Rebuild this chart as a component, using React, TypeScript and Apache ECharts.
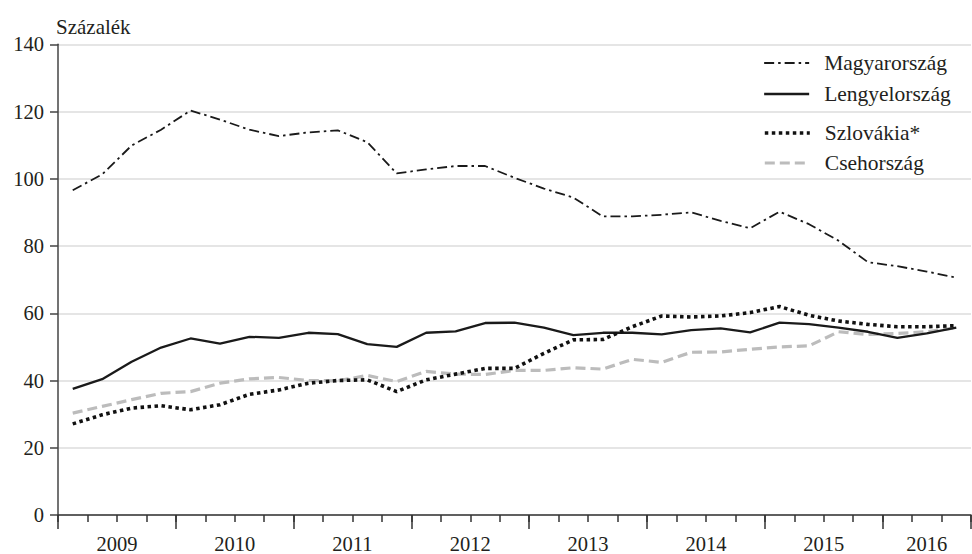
import React, { useEffect, useRef } from "react";
import * as echarts from "echarts";

const years = ["2009", "2010", "2011", "2012", "2013", "2014", "2015", "2016"];
const quarters: string[] = [];
years.forEach((y) => {
  const n = y === "2016" ? 3 : 4;
  for (let q = 1; q <= n; q++) quarters.push(`${y} Q${q}`);
});

const hungary = [96.6, 101.3, 109.9, 114.6, 120.3, 117.6, 114.6, 112.7, 113.8, 114.4, 110.9, 101.6, 102.8, 103.8, 103.8, 100.3, 97.1, 94.4, 88.8, 88.8, 89.3, 90.0, 87.5, 85.3, 90.2, 86.5, 81.6, 75.2, 74.0, 72.4, 70.6];
const poland = [37.5, 40.4, 45.6, 49.8, 52.5, 51.0, 53.0, 52.7, 54.2, 53.8, 50.8, 50.0, 54.2, 54.6, 57.1, 57.2, 55.7, 53.5, 54.2, 54.2, 53.7, 55.0, 55.5, 54.3, 57.2, 56.8, 55.7, 54.5, 52.7, 54.0, 55.7];
const slovakia = [27.1, 29.8, 31.8, 32.5, 31.3, 32.8, 35.9, 37.2, 39.2, 40.0, 40.2, 36.7, 40.2, 41.9, 43.6, 43.6, 48.1, 52.1, 52.2, 56.0, 59.2, 58.9, 59.2, 60.2, 62.0, 59.4, 57.7, 56.7, 56.0, 56.0, 56.3];
const czechia = [30.3, 32.3, 34.3, 36.2, 36.7, 39.2, 40.5, 40.9, 40.0, 39.9, 41.5, 39.7, 42.7, 41.9, 41.8, 43.0, 43.0, 43.8, 43.4, 46.3, 45.4, 48.4, 48.5, 49.3, 50.0, 50.3, 54.5, 53.7, 54.0, 54.5, 55.7];

const yTicks = { min: 0, max: 140, interval: 20 };
const seriesNames = ["Magyarország", "Lengyelország", "Szlovákia*", "Csehország"];
const unitLabel = "Százalék";

const FONT = "'Liberation Serif', 'Times New Roman', serif";

const lineStyles = [
  { color: "#1a1a1a", width: 1.8, type: [10, 4, 2.5, 4] },
  { color: "#1a1a1a", width: 2.3, type: "solid" },
  { color: "#111", width: 3.6, type: [3.5, 3.5], cap: "butt" },
  { color: "#bcbcbc", width: 3.2, type: [10, 5] },
];

export default function App() {
  const ref = useRef<HTMLDivElement>(null);
  useEffect(() => {
    if (!ref.current) return;
    const chart = echarts.init(ref.current, undefined, { renderer: "svg" });
    const textColor = "#231f20";
    const lastYear = years[years.length - 1];
    const legendText = {
      fontFamily: FONT,
      fontSize: 21.5,
      color: textColor,
      padding: [0, 0, 0, 10],
      lineHeight: 21,
    };
    const legendItem = (i: number) => ({
      name: seriesNames[i],
      lineStyle: { ...lineStyles[i] },
      itemStyle: { opacity: 0 },
    });
    chart.setOption({
      animation: false,
      backgroundColor: "#ffffff",
      textStyle: { fontFamily: FONT },
      title: {
        text: unitLabel,
        left: 51,
        top: 11,
        textStyle: { fontFamily: FONT, fontSize: 21, fontWeight: "normal", color: textColor },
      },
      legend: [
        {
          data: [legendItem(0), legendItem(1)],
          orient: "vertical",
          left: 763,
          top: 52,
          padding: 0,
          itemWidth: 45,
          itemHeight: 14,
          itemGap: 9,
          itemStyle: { opacity: 0 },
          textStyle: legendText,
        },
        {
          data: [legendItem(2), legendItem(3)],
          orient: "vertical",
          left: 763,
          top: 122,
          padding: 0,
          itemWidth: 45,
          itemHeight: 14,
          itemGap: 8,
          itemStyle: { opacity: 0 },
          textStyle: legendText,
        },
      ],
      grid: { left: 58, right: 1, top: 44.3, bottom: 36.5, containLabel: false },
      xAxis: [
        {
          type: "category",
          data: quarters,
          boundaryGap: true,
          axisLine: { show: true, lineStyle: { color: "#333", width: 1.5 } },
          axisTick: { show: true, interval: 0, length: 7, lineStyle: { color: "#333", width: 1.5 } },
          axisLabel: { show: false },
          splitLine: { show: false },
        },
        {
          type: "category",
          data: quarters,
          boundaryGap: true,
          position: "bottom",
          axisLine: { show: false },
          axisTick: {
            show: true,
            length: 14,
            interval: (i: number) => i % 4 === 0,
            lineStyle: { color: "#333", width: 1.5 },
          },
          axisLabel: {
            show: true,
            interval: (i: number) => i % 4 === 1,
            margin: 18,
            formatter: (v: string) => {
              const y = v.slice(0, 4);
              return y === lastYear ? `{b|${y}}` : `{a|${y}}`;
            },
            rich: {
              a: { fontFamily: FONT, fontSize: 20.5, color: textColor, padding: [0, 0, 0, 29.4] },
              b: { fontFamily: FONT, fontSize: 20.5, color: textColor },
            },
          },
          splitLine: { show: false },
        },
      ],
      yAxis: {
        type: "value",
        min: yTicks.min,
        max: yTicks.max,
        interval: yTicks.interval,
        axisLine: { show: true, lineStyle: { color: "#444", width: 1.5 } },
        axisTick: { show: true, length: 8, lineStyle: { color: "#444", width: 1.5 } },
        axisLabel: { fontFamily: FONT, fontSize: 20.5, color: textColor, margin: 14 },
        splitLine: { show: true, lineStyle: { color: "#dcdcdc", width: 1.5 } },
      },
      series: [
        { name: seriesNames[0], type: "line", data: hungary, symbol: "none", lineStyle: lineStyles[0], itemStyle: { color: "#1a1a1a" }, z: 4 },
        { name: seriesNames[1], type: "line", data: poland, symbol: "none", lineStyle: lineStyles[1], itemStyle: { color: "#1a1a1a" }, z: 3 },
        { name: seriesNames[2], type: "line", data: slovakia, symbol: "none", lineStyle: lineStyles[2], itemStyle: { color: "#111" }, z: 5 },
        { name: seriesNames[3], type: "line", data: czechia, symbol: "none", lineStyle: lineStyles[3], itemStyle: { color: "#bcbcbc" }, z: 2 },
      ],
    });
    return () => chart.dispose();
  }, []);
  return (
    <div
      ref={ref}
      style={{ position: "fixed", left: 0, top: 0, width: 972, height: 554, background: "#fff" }}
    />
  );
}
